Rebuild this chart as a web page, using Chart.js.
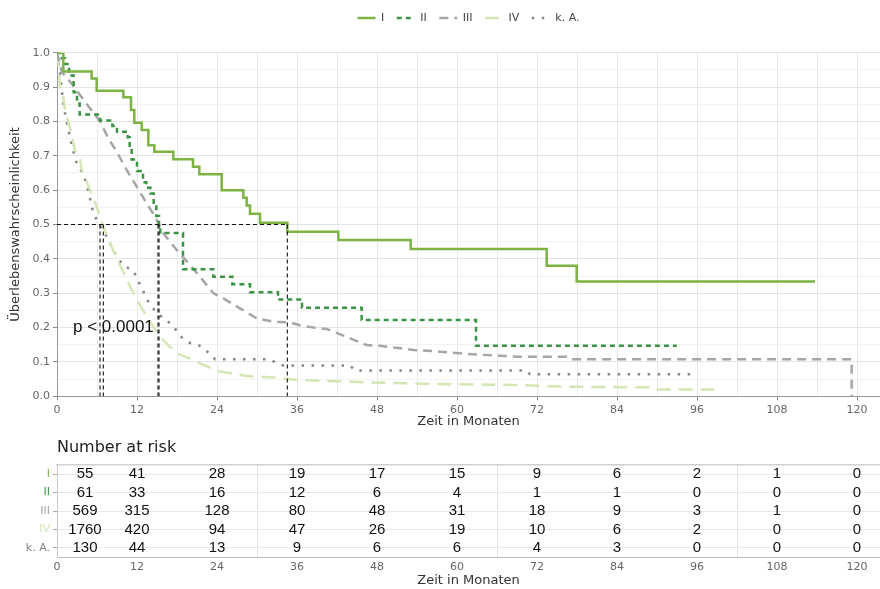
<!DOCTYPE html>
<html>
<head>
<meta charset="utf-8">
<script src="https://cdn.jsdelivr.net/npm/chart.js@4.4.0/dist/chart.umd.min.js"></script>
<style>
  body { margin: 0; background: #fff; }
  #wrap { position: relative; width: 880px; height: 589px; }
  #km { position: absolute; left: 0; top: 0; }
  #risk { position: absolute; left: 0; top: 430px; }
</style>
</head>
<body>
<div id="wrap">
  <canvas id="km" width="880" height="430"></canvas>
  <canvas id="risk" width="880" height="159"></canvas>
</div>
<script>
// groups (tumour stage)
const groups = ['I', 'II', 'III', 'IV', 'k. A.'];
const groupColors = ['#7cb342', '#3a9344', '#a6a6a6', '#d3e6b4', '#858585'];
const groupDash = [[], [5, 4], [9, 6], [14, 8], [2.5, 7.5]];

// survival curves: [month, survival]
const survI = [[0, 1], [0.95, 0.945], [5.2, 0.925], [5.95, 0.889], [9.95, 0.87], [11.1, 0.833], [11.6, 0.796],
  [12.7, 0.775], [13.7, 0.731], [14.6, 0.712], [17.45, 0.69], [20.4, 0.668], [21.35, 0.646], [24.7, 0.6],
  [27.95, 0.578], [28.45, 0.555], [28.95, 0.531], [30.45, 0.505], [34.55, 0.479], [42.2, 0.455],
  [53.05, 0.429], [73.45, 0.38], [77.95, 0.334], [113.7, 0.334]];
const survII = [[0, 1], [0.5, 0.984], [1.2, 0.967], [1.8, 0.934], [2.5, 0.885], [3.0, 0.852], [3.4, 0.82],
  [6.45, 0.803], [8.3, 0.787], [9.0, 0.77], [10.6, 0.754], [10.9, 0.721], [11.2, 0.689], [12.0, 0.656],
  [12.9, 0.623], [13.4, 0.607], [14.0, 0.59], [14.5, 0.557], [14.9, 0.525], [15.3, 0.492], [15.5, 0.475],
  [18.9, 0.37], [23.45, 0.348], [26.3, 0.326], [28.95, 0.303], [33.15, 0.282], [36.75, 0.258],
  [45.7, 0.222], [62.85, 0.147], [92.95, 0.147]];
const survIII = [[0, 1], [0.7, 0.945], [1.95, 0.916], [3.45, 0.877], [4.95, 0.838], [6.45, 0.8], [7.7, 0.751],
  [8.95, 0.712], [10.45, 0.659], [11.95, 0.61], [13.45, 0.562], [14.7, 0.523], [15.95, 0.474], [17.95, 0.426],
  [19.95, 0.382], [21.45, 0.348], [23.45, 0.3], [24.95, 0.285], [27.45, 0.256], [29.95, 0.227], [32.45, 0.217],
  [34.95, 0.215], [36.45, 0.207], [38.45, 0.2], [40.45, 0.196], [43.45, 0.173], [46.45, 0.149], [48.45, 0.147],
  [53.45, 0.135], [57.45, 0.13], [61.45, 0.123], [69.45, 0.115], [76.45, 0.115], [77.0, 0.108],
  [119.2, 0.108], [119.2, 0]];
const survIV = [[0, 1], [0.2, 0.98], [0.45, 0.9], [0.95, 0.87], [1.2, 0.833], [1.95, 0.78], [2.7, 0.715],
  [3.45, 0.688], [3.7, 0.66], [4.95, 0.6], [5.95, 0.552], [6.95, 0.494], [8.2, 0.435], [9.2, 0.392],
  [11.45, 0.3], [13.45, 0.232], [15.45, 0.173], [17.95, 0.125], [20.45, 0.106], [21.45, 0.096],
  [24.45, 0.072], [28.45, 0.059], [32.45, 0.055], [36.45, 0.047], [39.95, 0.045], [45.95, 0.041],
  [55.95, 0.036], [68.45, 0.033], [75.95, 0.028], [89.45, 0.026], [89.95, 0.02], [98.55, 0.02]];
const survKA = [[0, 1], [0.45, 0.945], [0.7, 0.896], [0.95, 0.848], [1.45, 0.8], [2.2, 0.731], [2.95, 0.678],
  [3.7, 0.654], [4.45, 0.62], [5.45, 0.533], [6.2, 0.504], [7.45, 0.465], [8.7, 0.416], [9.95, 0.38],
  [11.45, 0.366], [12.45, 0.325], [13.95, 0.265], [15.45, 0.235], [17.45, 0.205], [18.45, 0.175],
  [19.95, 0.155], [21.45, 0.147], [23.2, 0.12], [23.7, 0.108], [31.95, 0.108], [32.95, 0.096],
  [33.95, 0.09], [43.95, 0.09], [44.7, 0.075], [70.45, 0.075], [70.95, 0.064], [95.45, 0.064]];
const curves = [survI, survII, survIII, survIV, survKA];
const stepped = [true, true, false, false, false];

// median survival (months) per group
const medians = [34.55, 15.3, 15.15, 6.95, 6.45];
const pText = 'p < 0.0001';

// axis ticks
const xMonths = [0, 6, 12, 18, 24, 30, 36, 42, 48, 54, 60, 66, 72, 78, 84, 90, 96, 102, 108, 114, 120];
const yValues = [0, 0.05, 0.1, 0.15, 0.2, 0.25, 0.3, 0.35, 0.4, 0.45, 0.5, 0.55, 0.6, 0.65, 0.7, 0.75, 0.8, 0.85, 0.9, 0.95, 1];
const xMax = 123.45;

// number at risk table
const riskMonths = [0, 12, 24, 36, 48, 60, 72, 84, 96, 108, 120];
const riskI = [55, 41, 28, 19, 17, 15, 9, 6, 2, 1, 0];
const riskII = [61, 33, 16, 12, 6, 4, 1, 1, 0, 0, 0];
const riskIII = [569, 315, 128, 80, 48, 31, 18, 9, 3, 1, 0];
const riskIV = [1760, 420, 94, 47, 26, 19, 10, 6, 2, 0, 0];
const riskKA = [130, 44, 13, 9, 6, 6, 4, 3, 0, 0, 0];
const riskCounts = [riskI, riskII, riskIII, riskIV, riskKA];
const riskGrid = [30, 66, 102];

Chart.defaults.font.family = '"DejaVu Sans", Verdana, sans-serif';
Chart.defaults.animation = false;

const isMajor = (v) => Math.abs(v * 10 - Math.round(v * 10)) < 1e-6;

// ---------- survival plot ----------
const kmDatasets = curves.map((c, i) => ({
  label: groups[i],
  data: c.map(p => ({ x: p[0], y: p[1] })),
  borderColor: groupColors[i],
  backgroundColor: groupColors[i],
  borderWidth: 2.5,
  borderDash: groupDash[i],
  stepped: stepped[i],
  pointRadius: 0,
  fill: false,
  tension: 0
}));

const guideStyle = { borderColor: '#111', borderWidth: 1.1, borderDash: [4, 3], pointRadius: 0, fill: false, order: -1 };
kmDatasets.push(Object.assign({
  label: 'median',
  data: [{ x: 0, y: 0.5 }, { x: Math.max(...medians), y: 0.5 }]
}, guideStyle));
medians.forEach(m => {
  kmDatasets.push(Object.assign({
    label: 'median',
    data: [{ x: m, y: 0.5 }, { x: m, y: 0 }]
  }, guideStyle));
});

const pValuePlugin = {
  id: 'pValue',
  afterDatasetsDraw(chart) {
    const { ctx, scales: { x, y } } = chart;
    ctx.save();
    ctx.font = '17px "Liberation Sans", Arial, sans-serif';
    ctx.fillStyle = '#111';
    ctx.textBaseline = 'middle';
    ctx.fillText(pText, x.getPixelForValue(2.4), y.getPixelForValue(0.2));
    ctx.restore();
  }
};

new Chart(document.getElementById('km'), {
  type: 'line',
  data: { datasets: kmDatasets },
  options: {
    responsive: false,
    devicePixelRatio: 1,
    events: [],
    layout: { padding: 0 },
    plugins: {
      tooltip: { enabled: false },
      title: { display: true, text: '', weight: 500, padding: 0, font: { size: 16 } },
      legend: {
        position: 'top',
        fullSize: false,
        labels: {
          usePointStyle: true,
          pointStyleWidth: 18,
          padding: 12.5,
          color: '#444',
          font: { size: 11 },
          // line samples with each group's dash pattern
          generateLabels: () => groups.map((g, i) => ({
            text: g,
            datasetIndex: i,
            strokeStyle: groupColors[i],
            fillStyle: groupColors[i],
            fontColor: '#444',
            lineWidth: 2.5,
            lineDash: groupDash[i],
            lineCap: 'butt',
            pointStyle: 'line',
            hidden: false
          }))
        }
      }
    },
    scales: {
      x: {
        type: 'linear',
        min: 0,
        max: xMax,
        afterBuildTicks: (s) => { s.ticks = xMonths.map(v => ({ value: v })); },
        afterFit: (s) => { s.height = 33.7; s.paddingLeft = 0; s.paddingRight = 0; },
        ticks: {
          autoSkip: false, maxRotation: 0, padding: 3, color: '#666', font: { size: 11 },
          callback: (v) => (v % 12 === 0 ? String(v) : '')
        },
        grid: {
          color: '#e9e9e9',
          tickLength: 4,
          tickColor: (c) => (c.tick && c.tick.value % 12 === 0 ? '#888' : 'rgba(0,0,0,0)')
        },
        border: { color: '#9a9a9a' },
        title: { display: true, text: 'Zeit in Monaten', color: '#333', font: { size: 13 }, padding: { top: 0, bottom: 1 } }
      },
      y: {
        type: 'linear',
        min: 0,
        max: 1,
        afterBuildTicks: (s) => { s.ticks = yValues.map(v => ({ value: v })); },
        afterFit: (s) => { s.width = 57; },
        ticks: {
          autoSkip: false, padding: 3, color: '#666', font: { size: 11 },
          callback: (v) => (isMajor(v) ? v.toFixed(1) : '')
        },
        grid: {
          color: (c) => (c.tick && isMajor(c.tick.value) ? '#e4e4e4' : '#f2f2f2'),
          tickLength: 4,
          tickColor: (c) => (c.tick && isMajor(c.tick.value) ? '#888' : 'rgba(0,0,0,0)')
        },
        border: { color: '#9a9a9a' },
        title: { display: true, text: 'Überlebenswahrscheinlichkeit', color: '#333', font: { size: 13 }, padding: { top: 8, bottom: 0 } }
      }
    }
  },
  plugins: [pValuePlugin]
});

// ---------- number at risk table ----------
const riskDatasets = groups.map((g, i) => ({
  label: g,
  counts: riskCounts[i],
  data: riskMonths.map(t => ({ x: t, y: g })),
  xAxisID: 'x',
  yAxisID: 'y',
  pointRadius: 0
}));

const riskTextPlugin = {
  id: 'riskText',
  afterDatasetsDraw(chart) {
    const { ctx, chartArea } = chart;
    ctx.save();
    ctx.font = '15px "Liberation Sans", Arial, sans-serif';
    ctx.fillStyle = '#111';
    ctx.textAlign = 'center';
    ctx.textBaseline = 'middle';
    chart.data.datasets.forEach((ds, i) => {
      chart.getDatasetMeta(i).data.forEach((pt, j) => {
        const px = Math.max(pt.x, chartArea.left + 28);
        ctx.fillText(String(ds.counts[j]), px, pt.y);
      });
    });
    ctx.font = '16px "DejaVu Sans", Verdana, sans-serif';
    ctx.fillStyle = '#222';
    ctx.textAlign = 'left';
    ctx.fillText('Number at risk', chartArea.left, 18);
    ctx.restore();
  }
};

new Chart(document.getElementById('risk'), {
  type: 'scatter',
  data: { datasets: riskDatasets },
  options: {
    responsive: false,
    devicePixelRatio: 1,
    events: [],
    layout: { padding: { top: 35, left: 0, right: 0, bottom: 0 } },
    plugins: { legend: { display: false }, tooltip: { enabled: false } },
    scales: {
      x: {
        type: 'linear',
        position: 'bottom',
        min: 0,
        max: xMax,
        afterBuildTicks: (s) => { s.ticks = riskMonths.map(v => ({ value: v })); },
        afterFit: (s) => { s.height = 32; s.paddingLeft = 0; s.paddingRight = 0; },
        ticks: { autoSkip: false, maxRotation: 0, padding: 4, color: '#666', font: { size: 11 } },
        grid: { display: false, drawTicks: false },
        border: { color: '#bbb' },
        title: { display: true, text: 'Zeit in Monaten', color: '#333', font: { size: 13 }, padding: { top: 0, bottom: 1 } }
      },
      xg: {
        type: 'linear',
        position: 'bottom',
        min: 0,
        max: xMax,
        afterBuildTicks: (s) => { s.ticks = riskGrid.map(v => ({ value: v })); },
        afterFit: (s) => { s.height = 0; s.paddingLeft = 0; s.paddingRight = 0; },
        ticks: { display: false },
        grid: { color: '#e2e2e2', drawTicks: false },
        border: { display: false }
      },
      xTop: {
        type: 'linear',
        position: 'top',
        min: 0,
        max: xMax,
        afterFit: (s) => { s.height = 0; s.paddingLeft = 0; s.paddingRight = 0; },
        ticks: { display: false },
        grid: { display: false, drawTicks: false },
        border: { display: true, color: '#d0d0d0', width: 1.5 }
      },
      y: {
        type: 'category',
        labels: groups,
        offset: true,
        afterFit: (s) => { s.width = 57; },
        ticks: { padding: 3, color: (c) => groupColors[c.index], font: { size: 11 } },
        grid: { offset: false, color: '#e8e8e8', tickLength: 4, tickColor: '#aaa' },
        border: { color: '#c8c8c8' }
      }
    }
  },
  plugins: [riskTextPlugin]
});
</script>
</body>
</html>
